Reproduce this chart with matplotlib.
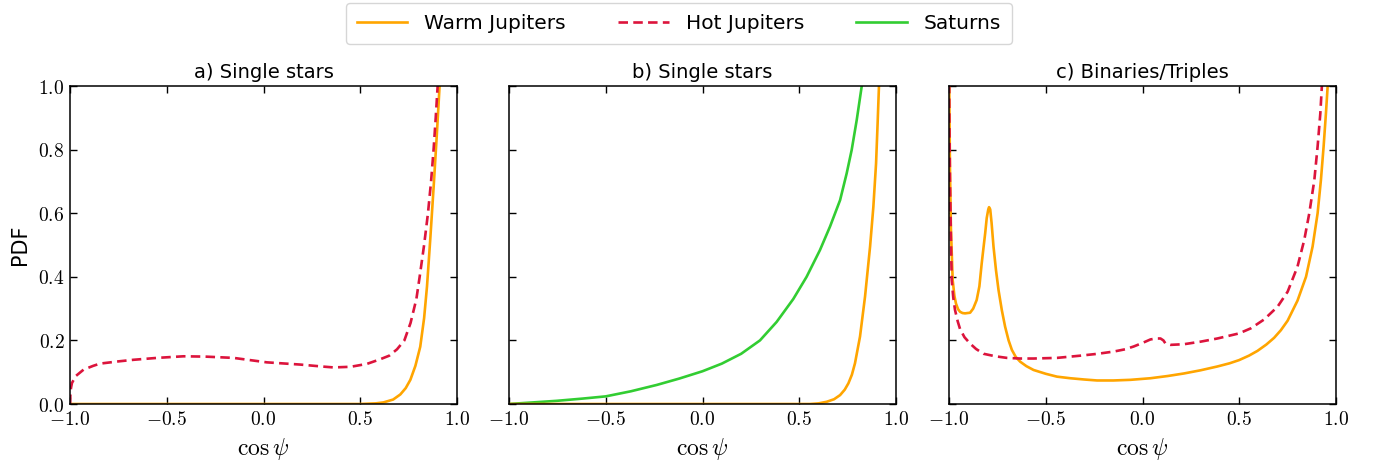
import matplotlib
matplotlib.use("Agg")
import matplotlib.pyplot as plt
from matplotlib.ticker import FuncFormatter

plt.rcParams["mathtext.fontset"] = "cm"
plt.rcParams["font.family"] = ["DejaVu Sans"]

ORANGE = "#FFA500"
CRIMSON = "#DC143C"
GREEN = "#32CD32"

# ---- panel a: single stars ----
a_hot_x = [-1.0, -0.998, -0.995, -0.99, -0.97, -0.93, -0.88, -0.845, -0.75, -0.672, -0.55,
           -0.414, -0.30, -0.155, 0.017, 0.19, 0.30, 0.362, 0.45, 0.534, 0.60, 0.65, 0.69,
           0.728, 0.76, 0.79, 0.807, 0.83, 0.85, 0.866, 0.879, 0.89, 0.90, 0.91]
a_hot_y = [0.0, 0.03, 0.05, 0.066, 0.088, 0.108, 0.12, 0.127, 0.134, 0.139, 0.145,
           0.150, 0.149, 0.145, 0.131, 0.124, 0.118, 0.115, 0.117, 0.126, 0.14, 0.152, 0.172,
           0.20, 0.255, 0.33, 0.40, 0.50, 0.60, 0.70, 0.80, 0.90, 1.0, 1.1]
a_warm_x = [-1.0, 0.0, 0.50, 0.58, 0.62, 0.67, 0.707, 0.735, 0.759, 0.785, 0.81, 0.83,
            0.845, 0.862, 0.879, 0.895, 0.91, 0.92]
a_warm_y = [0.0, 0.0, 0.0, 0.002, 0.005, 0.014, 0.03, 0.05, 0.076, 0.12, 0.18, 0.27,
            0.37, 0.52, 0.68, 0.84, 1.0, 1.1]

# ---- panel b: single stars ----
b_sat_x = [-1.0, -0.9, -0.753, -0.62, -0.5, -0.37, -0.236, -0.12, 0.0, 0.1, 0.2, 0.297,
           0.383, 0.469, 0.538, 0.607, 0.659, 0.711, 0.745, 0.771, 0.797, 0.823, 0.83]
b_sat_y = [0.0, 0.004, 0.01, 0.017, 0.024, 0.04, 0.06, 0.08, 0.103, 0.127, 0.158, 0.20,
           0.258, 0.33, 0.40, 0.484, 0.558, 0.641, 0.725, 0.799, 0.893, 1.0, 1.03]
b_warm_x = [-1.0, 0.0, 0.556, 0.60, 0.642, 0.68, 0.711, 0.735, 0.754, 0.772, 0.788, 0.814,
            0.840, 0.866, 0.883, 0.897, 0.905, 0.912, 0.92]
b_warm_y = [0.0, 0.0, 0.0, 0.002, 0.007, 0.015, 0.028, 0.045, 0.065, 0.092, 0.128, 0.212,
            0.338, 0.495, 0.62, 0.757, 0.883, 1.0, 1.1]

# ---- panel c: binaries / triples ----
c_warm_x = [-1.0, -0.998, -0.995, -0.99, -0.981, -0.972, -0.964, -0.953, -0.943, -0.93,
            -0.917, -0.905, -0.891, -0.875, -0.857, -0.843, -0.831, -0.822, -0.813,
            -0.805, -0.797, -0.793, -0.787, -0.78, -0.770, -0.757, -0.744, -0.727,
            -0.710, -0.692, -0.675, -0.655, -0.632, -0.60, -0.563, -0.50, -0.442,
            -0.373, -0.30, -0.235, -0.15, -0.062, 0.041, 0.13, 0.214, 0.30, 0.387,
            0.45, 0.499, 0.55, 0.594, 0.640, 0.680, 0.715, 0.750, 0.801, 0.845, 0.879,
            0.905, 0.922, 0.936, 0.948, 0.957, 0.965]
c_warm_y = [1.1, 0.95, 0.74, 0.55, 0.39, 0.34, 0.316, 0.298, 0.29, 0.286,
            0.285, 0.286, 0.287, 0.30, 0.327, 0.37, 0.442, 0.49, 0.537,
            0.585, 0.612, 0.619, 0.612, 0.57, 0.495, 0.42, 0.358, 0.295,
            0.243, 0.20, 0.170, 0.148, 0.133, 0.119, 0.107, 0.095, 0.086,
            0.081, 0.077, 0.074, 0.074, 0.076, 0.081, 0.088, 0.096, 0.106, 0.118,
            0.128, 0.138, 0.152, 0.167, 0.187, 0.208, 0.232, 0.262, 0.325, 0.40, 0.495,
            0.60, 0.704, 0.81, 0.914, 1.0, 1.1]
c_hot_x = [-1.0, -0.998, -0.995, -0.99, -0.986, -0.978, -0.969, -0.955, -0.943, -0.92,
           -0.891, -0.86, -0.822, -0.76, -0.701, -0.632, -0.563, -0.442, -0.321, -0.23,
           -0.148, -0.09, -0.045, 0.0, 0.041, 0.07, 0.093, 0.108, 0.119, 0.145, 0.214,
           0.30, 0.387, 0.499, 0.560, 0.629, 0.698, 0.750, 0.801, 0.836, 0.862,
           0.888, 0.905, 0.919, 0.927, 0.935]
c_hot_y = [1.1, 0.90, 0.704, 0.52, 0.39, 0.335, 0.296, 0.26, 0.236, 0.21,
           0.19, 0.173, 0.158, 0.150, 0.145, 0.143, 0.143, 0.145, 0.152, 0.158,
           0.165, 0.172, 0.181, 0.192, 0.203, 0.206, 0.206, 0.200, 0.190, 0.186, 0.188,
           0.196, 0.206, 0.222, 0.238, 0.266, 0.306, 0.353, 0.432, 0.516, 0.60,
           0.704, 0.81, 0.914, 1.0, 1.08]

titles = ["a) Single stars", "b) Single stars", "c) Binaries/Triples"]
x_ticks = [-1.0, -0.5, 0.0, 0.5, 1.0]
y_ticks = [0.0, 0.2, 0.4, 0.6, 0.8, 1.0]

fig = plt.figure(figsize=(13.75, 4.61), dpi=100)
W, H = 1375, 461
lefts = [70, 509, 949]
axw, top, bottom = 387, 86, 404
axes = [fig.add_axes([l / W, 1 - bottom / H, axw / W, (bottom - top) / H]) for l in lefts]

lw = 1.9
dash = (0, (3.6, 2.0))

ax = axes[0]
ax.plot(a_warm_x, a_warm_y, color=ORANGE, lw=lw)
ax.plot(a_hot_x, a_hot_y, color=CRIMSON, lw=lw, ls=dash)

ax = axes[1]
ax.plot(b_sat_x, b_sat_y, color=GREEN, lw=lw)
ax.plot(b_warm_x, b_warm_y, color=ORANGE, lw=lw)

ax = axes[2]
ax.plot(c_warm_x, c_warm_y, color=ORANGE, lw=lw)
ax.plot(c_hot_x, c_hot_y, color=CRIMSON, lw=lw, ls=dash)

fmt = FuncFormatter(lambda v, p: r"$%.1f$" % v)
for i, ax in enumerate(axes):
    ax.set_xlim(-1, 1)
    ax.set_ylim(0, 1)
    ax.set_xticks(x_ticks)
    ax.set_yticks(y_ticks)
    ax.xaxis.set_major_formatter(fmt)
    ax.yaxis.set_major_formatter(fmt)
    ax.tick_params(direction="in", top=True, right=True, length=5, width=1.0,
                   labelsize=14, pad=4)
    for s in ax.spines.values():
        s.set_linewidth(1.1)
    if i > 0:
        ax.tick_params(labelleft=False)
    ax.set_title(titles[i], fontsize=14, pad=6)
    ax.set_xlabel(r"$\cos\psi$", fontsize=17, labelpad=5)
axes[0].set_ylabel("PDF", fontsize=15, labelpad=6)

handles = [
    plt.Line2D([], [], color=ORANGE, lw=lw),
    plt.Line2D([], [], color=CRIMSON, lw=lw, ls=dash),
    plt.Line2D([], [], color=GREEN, lw=lw),
]
fig.legend(handles, ["Warm Jupiters", "Hot Jupiters", "Saturns"], loc="upper center",
           bbox_to_anchor=(679 / W, 1 - 3 / H), borderaxespad=0, ncol=3, fontsize=14.5,
           frameon=True, fancybox=True, handlelength=2.5, columnspacing=2.6,
           handletextpad=0.85, borderpad=0.55)

fig.savefig("out.png", dpi=100)
